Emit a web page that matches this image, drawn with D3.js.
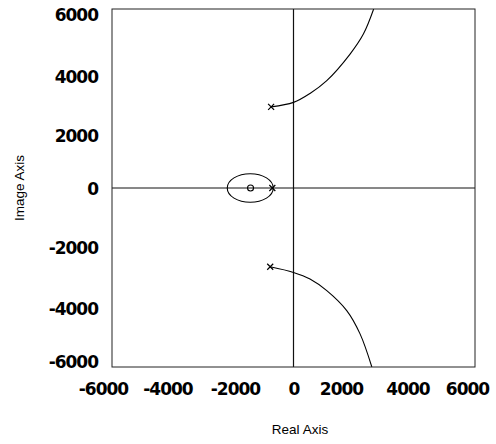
<!DOCTYPE html>
<html>
<head>
<meta charset="utf-8">
<script src="https://cdn.jsdelivr.net/npm/d3@7"></script>
<style>
  html, body { margin: 0; padding: 0; background: #fff; }
  svg { display: block; }
</style>
</head>
<body>
<svg id="chart" width="496" height="444"></svg>
<script>
// Root locus: open-loop poles/zeros and the closed-loop branches
const axisTicks = [-6000, -4000, -2000, 0, 2000, 4000, 6000];
const poles = [[-740, 2720], [-770, -2640], [-700, 0]];
const zeros = [[-1420, 0]];
const upperBranch = [[-740, 2720], [0, 2870], [545, 3170], [1100, 3600], [1870, 4490], [2310, 5160], [2650, 6000]];
const lowerBranch = [[-770, -2640], [0, -2830], [545, -3050], [1100, -3440], [1760, -4110], [2200, -4890], [2590, -6000]];
// breakaway loop around the zero: [centre real, centre imag, half-width, half-height]
const breakawayLoop = [-1430, 0, 760, 480];

const svg = d3.select("#chart");
const frame = { left: 112, right: 475, top: 9, bottom: 367 };

const x = d3.scaleLinear().domain([-6000, 6000]).range([frame.left, frame.right]);
const y = d3.scaleLinear().domain([-6000, 6000]).range([frame.bottom, frame.top]);

const fmt = d => String(d);  // plain hyphen minus
const labelFont = "'DejaVu Sans', sans-serif";

// small label nudges so the outer labels stay inside the page
const xLabelShift = { "-6000": -9, "-4000": -5, "-2000": 2, "0": 0, "2000": -13, "4000": -7, "6000": -8 };
const yLabelShift = { "6000": 6, "4000": 8, "2000": 8, "0": 1, "-2000": 0, "-4000": 2, "-6000": -5 };

// tick labels via axes (no tick marks)
const xAxis = svg.append("g")
  .attr("transform", `translate(0,${frame.bottom + 11})`)
  .call(d3.axisBottom(x).tickValues(axisTicks).tickFormat(fmt).tickSize(0).tickPadding(5));
const yAxis = svg.append("g")
  .attr("transform", `translate(${frame.left - 14},0)`)
  .call(d3.axisLeft(y).tickValues(axisTicks).tickFormat(fmt).tickSize(0).tickPadding(0));
[xAxis, yAxis].forEach(g => {
  g.select(".domain").remove();
  g.selectAll("text")
    .attr("font-family", labelFont)
    .attr("font-weight", "bold")
    .attr("font-size", 17)
    .attr("letter-spacing", -1)
    .attr("fill", "#000");
});
xAxis.selectAll("text").attr("dx", d => xLabelShift[String(d)] || 0);
yAxis.selectAll("text").attr("transform", d => `translate(0,${yLabelShift[String(d)] || 0})`);

// clip to plot frame
svg.append("clipPath").attr("id", "plotClip")
  .append("rect").attr("x", frame.left).attr("y", frame.top)
  .attr("width", frame.right - frame.left).attr("height", frame.bottom - frame.top);

const plot = svg.append("g").attr("clip-path", "url(#plotClip)");

// real and imaginary axes
plot.append("line")
  .attr("x1", frame.left).attr("x2", frame.right).attr("y1", y(0)).attr("y2", y(0))
  .attr("stroke", "#111").attr("stroke-width", 1);
plot.append("line")
  .attr("x1", x(0)).attr("x2", x(0)).attr("y1", frame.top).attr("y2", frame.bottom)
  .attr("stroke", "#111").attr("stroke-width", 1.2);

// branches
const line = d3.line().x(d => x(d[0])).y(d => y(d[1])).curve(d3.curveCatmullRom.alpha(0.5));
[upperBranch, lowerBranch].forEach(br => {
  plot.append("path").attr("d", line(br))
    .attr("fill", "none").attr("stroke", "#000").attr("stroke-width", 1.1);
});

// breakaway loop
plot.append("ellipse")
  .attr("cx", x(breakawayLoop[0])).attr("cy", y(breakawayLoop[1]))
  .attr("rx", x(breakawayLoop[0] + breakawayLoop[2]) - x(breakawayLoop[0]))
  .attr("ry", y(breakawayLoop[1]) - y(breakawayLoop[1] + breakawayLoop[3]))
  .attr("fill", "none").attr("stroke", "#000").attr("stroke-width", 1.1);

// zeros (o) and poles (x)
plot.selectAll("circle.zero").data(zeros).join("circle")
  .attr("class", "zero")
  .attr("cx", d => x(d[0])).attr("cy", d => y(d[1])).attr("r", 3)
  .attr("fill", "none").attr("stroke", "#000").attr("stroke-width", 1.1);
const s = 3;
plot.selectAll("path.pole").data(poles).join("path")
  .attr("class", "pole")
  .attr("d", d => {
    const cx = x(d[0]), cy = y(d[1]);
    return `M${cx - s},${cy - s}L${cx + s},${cy + s}M${cx - s},${cy + s}L${cx + s},${cy - s}`;
  })
  .attr("fill", "none").attr("stroke", "#000").attr("stroke-width", 1.2);

// frame
svg.append("rect")
  .attr("x", frame.left).attr("y", frame.top)
  .attr("width", frame.right - frame.left).attr("height", frame.bottom - frame.top)
  .attr("fill", "none").attr("stroke", "#222").attr("stroke-width", 1);

// axis titles
svg.append("text")
  .attr("x", 300).attr("y", 434)
  .attr("text-anchor", "middle")
  .attr("font-family", "'Liberation Sans', Arial, sans-serif")
  .attr("font-size", 13.5)
  .attr("fill", "#000")
  .text("Real Axis");
svg.append("text")
  .attr("transform", `translate(24,${(frame.top + frame.bottom) / 2}) rotate(-90)`)
  .attr("text-anchor", "middle")
  .attr("font-family", "'Liberation Sans', Arial, sans-serif")
  .attr("font-size", 13.5)
  .attr("fill", "#000")
  .text("Image Axis");
</script>
</body>
</html>
